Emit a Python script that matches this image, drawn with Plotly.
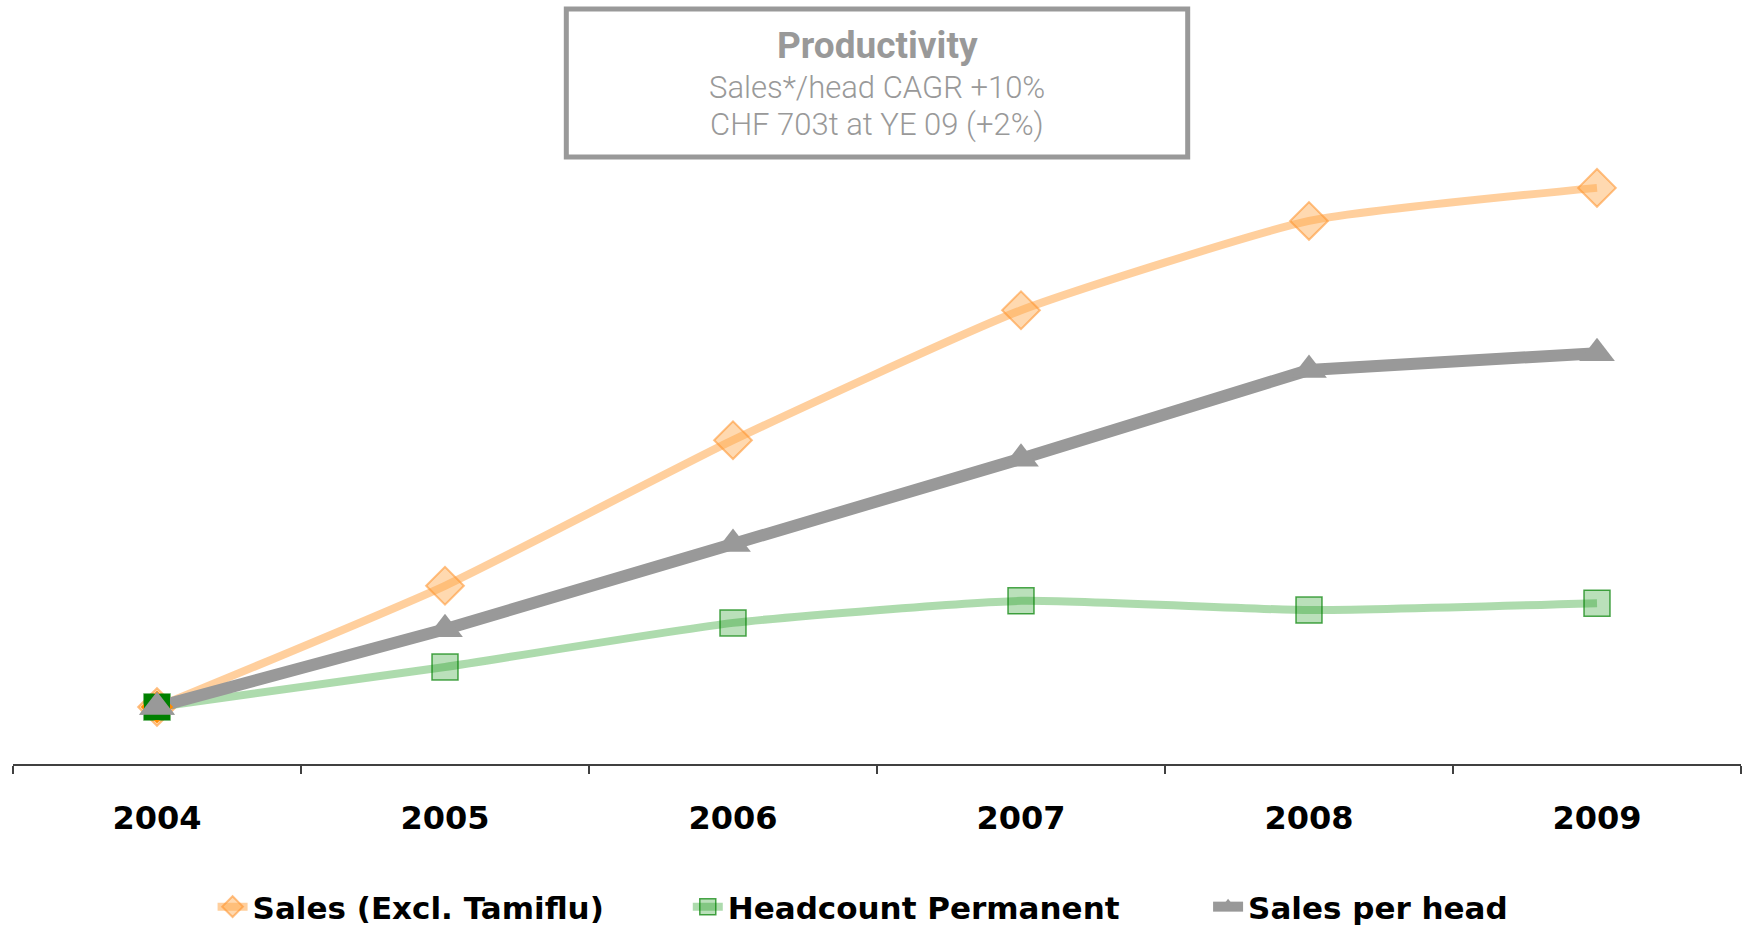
import plotly.graph_objects as go

# Index values, 2004 = 100
years = ["2004", "2005", "2006", "2007", "2008", "2009"]
sales_excl_tamiflu = [100, 120.9, 146.0, 168.4, 183.8, 189.5]
headcount_permanent = [100, 106.9, 114.5, 118.3, 116.7, 117.9]
sales_per_head = [100, 113.4, 128.1, 142.8, 158.1, 161.0]

series_names = ["Sales (Excl. Tamiflu)", "Headcount Permanent", "Sales per head"]

title_lines = ["<b>Productivity</b>", "Sales*/head CAGR +10%", "CHF 703t at YE 09 (+2%)"]

ORANGE_LINE = "rgba(255,160,60,0.5)"
GREEN_LINE = "rgba(40,160,40,0.38)"
GREY = "#999999"

LEGEND_FONT = dict(family="DejaVu Sans", size=31, color="black", weight="bold")

fig = go.Figure()

fig.add_trace(go.Scatter(
    x=years, y=sales_excl_tamiflu, name=series_names[0], mode="lines+markers",
    line=dict(color=ORANGE_LINE, width=8, shape="spline", smoothing=0.5),
    marker=dict(symbol="diamond", size=29, color="rgba(255,170,80,0.45)",
                line=dict(color="rgba(255,150,50,0.6)", width=2)),
    legend="legend",
))
fig.add_trace(go.Scatter(
    x=years, y=headcount_permanent, name=series_names[1], mode="lines+markers",
    line=dict(color=GREEN_LINE, width=8, shape="spline", smoothing=0.5),
    marker=dict(symbol="square", size=26, color="rgba(40,160,40,0.32)",
                line=dict(color="rgba(0,128,0,0.7)", width=1.5)),
    legend="legend2",
))
fig.add_trace(go.Scatter(
    x=years, y=sales_per_head, name=series_names[2], mode="lines+markers",
    line=dict(color=GREY, width=12),
    marker=dict(symbol="triangle-up", size=31, color=GREY),
    legend="legend3",
))

# Solid markers at the common 2004 base point
fig.add_trace(go.Scatter(
    x=years[:1], y=sales_excl_tamiflu[:1], mode="markers", showlegend=False,
    marker=dict(symbol="diamond", size=25, color="#FF8C00"),
))
fig.add_trace(go.Scatter(
    x=years[:1], y=headcount_permanent[:1], mode="markers", showlegend=False,
    marker=dict(symbol="square", size=26, color="#008000"),
))
fig.add_trace(go.Scatter(
    x=years[:1], y=sales_per_head[:1], mode="markers", showlegend=False,
    marker=dict(symbol="triangle-up", size=31, color=GREY),
))

# Title box
fig.add_shape(type="rect", xref="paper", yref="paper",
              x0=0.3202, x1=0.6798, y0=0.7997, y1=0.9947,
              line=dict(color=GREY, width=5), fillcolor="white", layer="below")
title_y = [0.946, 0.891, 0.842]
title_sizes = [37, 31, 31]
for i, (txt, yy, sz) in enumerate(zip(title_lines, title_y, title_sizes)):
    fig.add_annotation(text=txt, xref="paper", yref="paper", x=0.5, y=yy,
                       xanchor="center", yanchor="middle", showarrow=False,
                       font=dict(family="Roboto", size=sz, color=GREY,
                                 weight=None if i == 0 else 300))

legend_common = dict(orientation="h", yref="container", yanchor="middle",
                     xanchor="left", y=1 - 907 / 929, font=LEGEND_FONT,
                     bgcolor="rgba(0,0,0,0)", borderwidth=0)

fig.update_layout(
    width=1742, height=929,
    margin=dict(l=13, r=1, t=5, b=165),
    paper_bgcolor="white", plot_bgcolor="white",
    legend=dict(x=0.1155, **legend_common),
    legend2=dict(x=0.3905, **legend_common),
    legend3=dict(x=0.6916, **legend_common),
    xaxis=dict(type="category", categoryorder="array", categoryarray=years,
               range=[-0.5, 5.5], tickson="boundaries", ticks="outside",
               ticklen=8, tickcolor="#404040", tickwidth=1.5,
               showline=True, linecolor="#404040", linewidth=1.5,
               showgrid=False, zeroline=False,
               tickfont=dict(family="DejaVu Sans", size=32, color="black", weight="bold"),
               ticklabelstandoff=25),
    yaxis=dict(visible=False, range=[90.17, 221.03], showgrid=False, zeroline=False),
)

fig.write_html("out.html")
